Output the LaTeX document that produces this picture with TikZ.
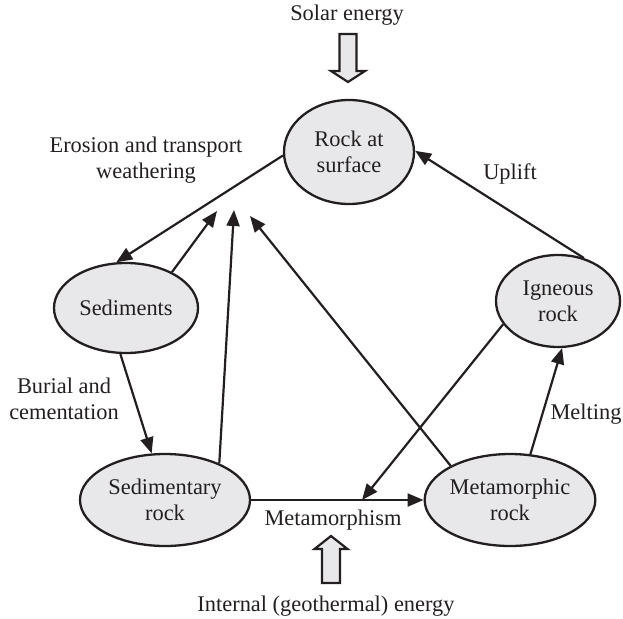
\documentclass[tikz,border=0pt]{standalone}
\usepackage{fontspec}
\setmainfont{Liberation Serif}
\usetikzlibrary{shapes.geometric,arrows.meta}
\definecolor{ink}{HTML}{231F20}
\definecolor{rockfill}{HTML}{E8E8EA}
\newcommand\bodyfont{\fontsize{22.4}{26}\selectfont}
\begin{document}
\begin{tikzpicture}[x=1pt,y=-1pt,
  rock/.style={ellipse, draw=ink, fill=rockfill, line width=2.3pt, inner sep=0pt, align=center, font=\bodyfont, text=ink},
  lbl/.style={align=center, font=\bodyfont, text=ink, inner sep=0pt},
  flow/.style={line width=2.2pt, draw=ink, -{Triangle[length=16pt,width=13pt]}},
  block/.style={draw=ink, fill=rockfill, line width=2.2pt, line join=miter}]
\useasboundingbox (0,0) rectangle (623,618);
% rock nodes
\node[rock, minimum width=130pt, minimum height=104pt] (surf) at (349,152) {Rock at\\surface};
\node[rock, minimum width=144pt, minimum height=90pt] (sed) at (126,308) {Sediments};
\node[rock, minimum width=170pt, minimum height=92pt] (sedr) at (165,500) {Sedimentary\\rock};
\node[rock, minimum width=170pt, minimum height=92pt] (meta) at (510,500) {Metamorphic\\rock};
\node[rock, minimum width=124pt, minimum height=92pt] (ign) at (558,301) {Igneous\\rock};
% free ends
\coordinate (f1) at (217,211);
\coordinate (f2) at (234,210);
\coordinate (f3) at (250,216);
\coordinate (f4) at (362,500);
% connectors
\draw[flow] (surf.183) -- (sed.102);
\draw[flow] (sed.38) -- (f1);
\draw[flow] (sedr.34) -- (f2);
\draw[flow] (meta.150) -- (f3);
\draw[flow] (ign.59) -- (surf.1);
\draw[flow] (sed.263) -- (sedr.106);
\draw[flow] (sedr.east) -- (meta.west);
\draw[flow] (meta.66) -- (ign.275);
\draw[flow] (ign.203) -- (f4);
% energy block arrows
\draw[block] (339.5,34) -- (356.5,34) -- (356.5,71) -- (365,71) -- (348,82) -- (331,71) -- (339.5,71) -- cycle;
\draw[block] (331,536) -- (347.5,549) -- (340,549) -- (340,583) -- (322,583) -- (322,549) -- (314.5,549) -- cycle;
% labels
\node[lbl] (lsolar) at (347,15) {Solar energy};
\node[lbl] (lero) at (146,160) {Erosion and transport\\weathering};
\node[lbl] (lup) at (510,174) {Uplift};
\node[lbl] (lbur) at (64,399) {Burial and\\cementation};
\node[lbl] (lmelt) at (586,414) {Melting};
\node[lbl] (lmeta) at (333,520) {Metamorphism};
\node[lbl] (lint) at (326,606) {Internal (geothermal) energy};
\end{tikzpicture}
\end{document}
